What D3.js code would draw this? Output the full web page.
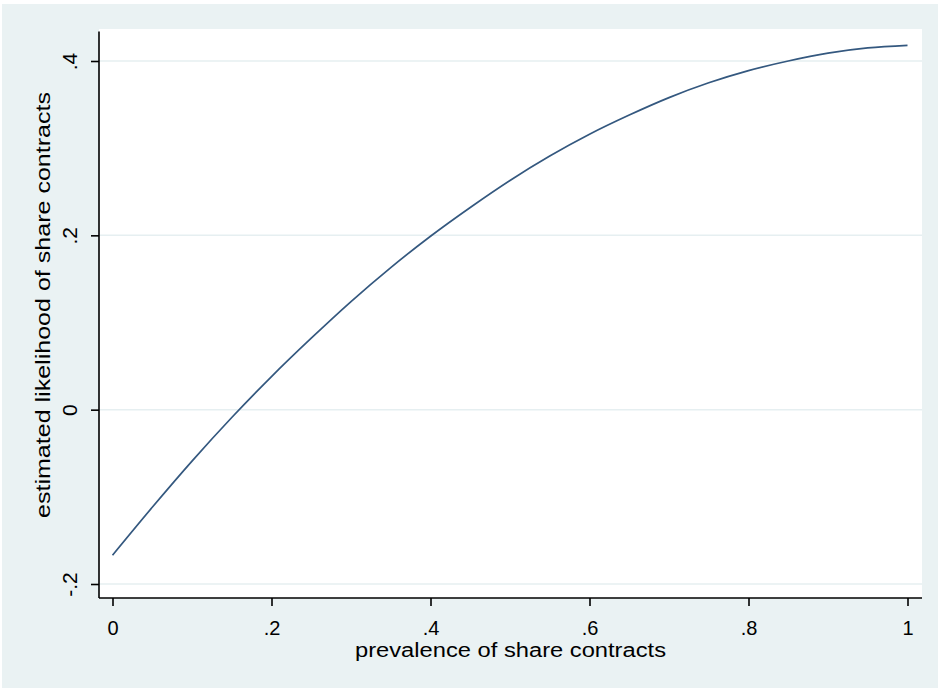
<!DOCTYPE html>
<html>
<head>
<meta charset="utf-8">
<script src="https://cdn.jsdelivr.net/npm/d3@7"></script>
<style>
  body { margin: 0; background: #fff; }
  text { font-family: "Liberation Sans Narrow", "Liberation Sans", Arial, sans-serif; fill: #000; }
</style>
</head>
<body>
<div id="chart"></div>
<script>
// data
const prevalence = [0, 0.05, 0.1, 0.15, 0.2, 0.25, 0.3, 0.35, 0.4, 0.45, 0.5,
  0.55, 0.6, 0.65, 0.7, 0.75, 0.8, 0.85, 0.9, 0.95, 1];
const likelihood = [-0.167, -0.112, -0.059, -0.009, 0.038, 0.082, 0.124, 0.163, 0.199, 0.232, 0.263,
  0.291, 0.316, 0.338, 0.358, 0.375, 0.389, 0.400, 0.409, 0.415, 0.418];
const xTicks = [0, 0.2, 0.4, 0.6, 0.8, 1];
const xTickLabels = ["0", ".2", ".4", ".6", ".8", "1"];
const yTicks = [-0.2, 0, 0.2, 0.4];
const yTickLabels = ["-.2", "0", ".2", ".4"];

const width = 938;
const height = 688;
const plot = { left: 99, right: 922, top: 29, bottom: 598 };

const svg = d3.select("#chart")
  .append("svg")
  .attr("width", width)
  .attr("height", height);

// outer background
svg.append("rect")
  .attr("x", 2).attr("y", 4)
  .attr("width", width - 2).attr("height", height - 4)
  .attr("fill", "#eaf2f3");

// plot region
svg.append("rect")
  .attr("x", plot.left).attr("y", plot.top)
  .attr("width", plot.right - plot.left).attr("height", plot.bottom - plot.top)
  .attr("fill", "#fff");

const x = d3.scaleLinear().domain([0, 1]).range([112.5, 907.5]);
const y = d3.scaleLinear().domain([-0.2, 0.4]).range([584, 61]);

// gridlines
svg.append("g")
  .selectAll("line")
  .data(yTicks)
  .enter()
  .append("line")
  .attr("x1", plot.left).attr("x2", plot.right)
  .attr("y1", d => y(d)).attr("y2", d => y(d))
  .attr("stroke", "#e6eff1")
  .attr("stroke-width", 1.5);

// curve
const line = d3.line()
  .x((d, i) => x(prevalence[i]))
  .y(d => y(d))
  .curve(d3.curveMonotoneX);

svg.append("path")
  .datum(likelihood)
  .attr("d", line)
  .attr("fill", "none")
  .attr("stroke", "#34587f")
  .attr("stroke-width", 1.7);

// x axis
const xAxis = d3.axisBottom(x)
  .tickValues(xTicks)
  .tickFormat((d, i) => xTickLabels[i])
  .tickSize(8)
  .tickSizeOuter(0);

const gx = svg.append("g")
  .attr("transform", `translate(0,${plot.bottom})`)
  .call(xAxis);
gx.select(".domain").attr("d", `M${plot.left},0H${plot.right}`);
gx.selectAll("path, line").attr("stroke", "#000").attr("stroke-width", 1.6);
gx.selectAll("text")
  .attr("y", 37).attr("dy", 0)
  .attr("font-size", 20)
  .attr("font-family", null);

// y axis
const yAxis = d3.axisLeft(y)
  .tickValues(yTicks)
  .tickFormat((d, i) => yTickLabels[i])
  .tickSize(8)
  .tickSizeOuter(0);

const gy = svg.append("g")
  .attr("transform", `translate(${plot.left},0)`)
  .call(yAxis);
gy.select(".domain").attr("d", `M0,31.5V${plot.bottom}`);
gy.selectAll("path, line").attr("stroke", "#000").attr("stroke-width", 1.6);
gy.selectAll("text")
  .attr("x", 0).attr("dy", 0)
  .attr("text-anchor", "middle")
  .attr("transform", "translate(-22,0) rotate(-90)")
  .attr("font-size", 21)
  .attr("font-family", null);

// axis titles
svg.append("text")
  .attr("x", (plot.left + plot.right) / 2)
  .attr("y", 657)
  .attr("text-anchor", "middle")
  .attr("font-size", 20)
  .attr("textLength", 311)
  .attr("lengthAdjust", "spacingAndGlyphs")
  .text("prevalence of share contracts");

svg.append("text")
  .attr("transform", `translate(50,${(92 + 518) / 2}) rotate(-90)`)
  .attr("text-anchor", "middle")
  .attr("font-size", 21)
  .attr("textLength", 426)
  .attr("lengthAdjust", "spacingAndGlyphs")
  .text("estimated likelihood of share contracts");
</script>
</body>
</html>
